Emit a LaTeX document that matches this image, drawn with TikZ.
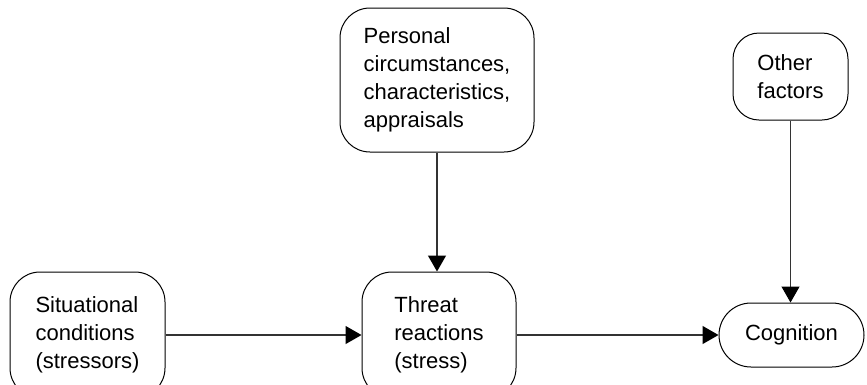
\documentclass[tikz,border=0pt]{standalone}
\usepackage{fontspec}
\setmainfont{Liberation Sans}
\usetikzlibrary{arrows.meta}
\begin{document}
\begin{tikzpicture}[x=1pt,y=-1pt,
  box/.style={draw, rounded corners=30pt, line width=1pt, align=left,
    font=\fontsize{22}{28}\selectfont, inner sep=0pt},
  arr/.style={-{Triangle[length=16pt,width=18pt,color=black]}, line width=1.2pt, draw=black!80}]
\useasboundingbox (0,0) rectangle (867,384);
\clip (0,0) rectangle (867,384);
\node[box, minimum width=155pt, minimum height=126pt] (sit) at (87.5,335) {Situational\\conditions\\(stressors)};
\node[box, minimum width=154pt, minimum height=126pt] (thr) at (439,335) {Threat\\reactions\\(stress)};
\node[box, minimum width=194pt, minimum height=144pt] (per) at (437,80) {Personal\\circumstances,\\characteristics,\\appraisals};
\node[box, rounded corners=26pt, minimum width=115pt, minimum height=87pt] (oth) at (790.5,76.5) {Other\\factors};
\node[box, rounded corners=32pt, minimum width=145pt, minimum height=64pt] (cog) at (791.5,335) {Cognition};
\draw[arr] (sit.east) -- (thr.west);
\draw[arr] (thr.east) -- (cog.west);
\draw[arr] (per.south) -- (per.south |- thr.north);
\draw[arr] (oth.south) -- (oth.south |- cog.north);
\end{tikzpicture}
\end{document}
